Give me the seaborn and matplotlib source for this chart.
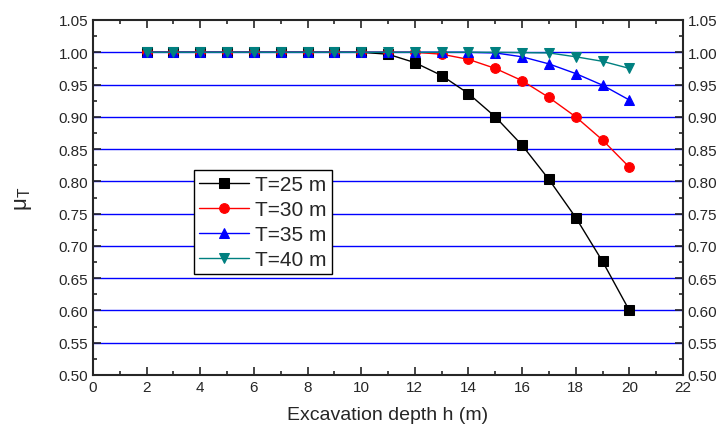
import numpy as np
import pandas as pd
import matplotlib
matplotlib.use("Agg")
import matplotlib.pyplot as plt
import seaborn as sns
from matplotlib.ticker import MultipleLocator

# dados
h = list(range(2, 21))
mu_25 = [1.0] * 9 + [0.997, 0.984, 0.964, 0.936, 0.900, 0.856, 0.803, 0.744, 0.676, 0.600]
mu_30 = [1.0] * 11 + [0.997, 0.989, 0.975, 0.956, 0.930, 0.900, 0.864, 0.822]
mu_35 = [1.0] * 13 + [0.999, 0.993, 0.982, 0.967, 0.949, 0.926]
mu_40 = [1.0] * 14 + [0.9995, 0.999, 0.993, 0.986, 0.975]

labels = ["T=25 m", "T=30 m", "T=35 m", "T=40 m"]
cores = ["black", "#ff0000", "#0000ff", "#008080"]
marcadores = ["s", "o", "^", "v"]

sns.set_style("ticks")
plt.rcParams['font.family'] = ['Liberation Sans', 'DejaVu Sans']
plt.rcParams['mathtext.default'] = 'regular'

fig = plt.figure(figsize=(7.21, 4.27), dpi=100)
ax = fig.add_axes([93 / 721, 51 / 427, 590 / 721, 355 / 427])

# linhas de grade azuis
for yv in np.arange(0.55, 1.01, 0.05):
    ax.axhline(yv, color="#0000ff", lw=1.0, zorder=0)

series = [mu_25, mu_30, mu_35, mu_40]
for vals, lab, c, m in zip(series, labels, cores, marcadores):
    df = pd.DataFrame({"h": h, "mu": vals})
    sns.lineplot(data=df, x="h", y="mu", ax=ax, color=c, marker=m, markersize=7,
                 markeredgecolor=c, linewidth=1.0, label=lab, zorder=3)

ax.set_xlim(0, 22)
ax.set_ylim(0.50, 1.05)
ax.xaxis.set_major_locator(MultipleLocator(2))
ax.xaxis.set_minor_locator(MultipleLocator(1))
ax.yaxis.set_major_locator(MultipleLocator(0.05))
ax.yaxis.set_minor_locator(MultipleLocator(0.025))
ax.yaxis.set_major_formatter(matplotlib.ticker.FormatStrFormatter('%.2f'))
ax.tick_params(which="both", direction="in", top=True, right=True,
               labelright=True, width=1.2, labelsize=11)
ax.tick_params(which="major", length=6)
ax.tick_params(which="minor", length=3)
for s in ax.spines.values():
    s.set_linewidth(1.5)

ax.set_xlabel("Excavation depth h (m)", fontsize=14, labelpad=9)
ax.set_ylabel(r"$\mu_T$", fontsize=16, labelpad=18)

leg = ax.legend(loc="lower left", bbox_to_anchor=(0.171, 0.284), fontsize=15,
                frameon=True, fancybox=False, edgecolor="black", framealpha=1,
                handlelength=2.4, borderpad=0.25, labelspacing=0.28, handletextpad=0.3,
                borderaxespad=0)
leg.get_frame().set_linewidth(1.0)

fig.savefig("out.png", dpi=100)
